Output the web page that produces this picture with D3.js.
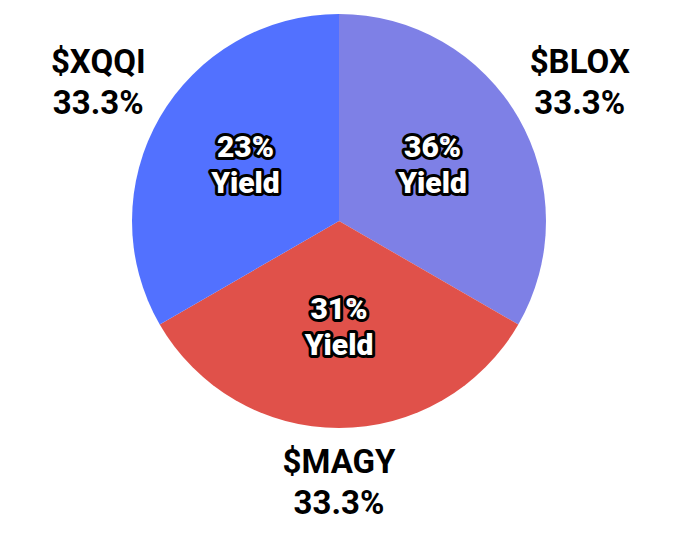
<!DOCTYPE html>
<html><head><meta charset="utf-8">
<script src="https://cdn.jsdelivr.net/npm/d3@7"></script>
<style>html,body{margin:0;padding:0;background:#fff;}svg{display:block;}</style>
</head><body>
<svg id="chart" width="680" height="534"></svg>
<script>
const tickers = ["$BLOX", "$MAGY", "$XQQI"];
const weights = [33.3, 33.3, 33.3];
const yields = ["36%", "31%", "23%"];
const colors = ["#7E80E6", "#E0514A", "#5271FF"];

const svg = d3.select("#chart");
const cx = 339, cy = 221, R = 207;
const g = svg.append("g").attr("transform", `translate(${cx},${cy})`);
const data = tickers.map((t, i) => ({t, w: weights[i], y: yields[i], c: colors[i]}));
const pie = d3.pie().value(d => d.w).sort(null);
const arcs = pie(data);
const arc = d3.arc().innerRadius(0).outerRadius(R);
g.selectAll("path.slice").data(arcs).join("path")
  .attr("d", arc).attr("fill", d => d.data.c);

const inner = d3.arc().innerRadius(108).outerRadius(108);
const outer = d3.arc().innerRadius(278).outerRadius(278);
const mid = d => (d.startAngle + d.endAngle) / 2;

const inl = g.selectAll("text.inl").data(arcs).join("text").attr("class", "inl")
  .attr("transform", d => { const p = inner.centroid(d); return `translate(${p[0]},${p[1] - 3})`; })
  .attr("text-anchor", "middle")
  .attr("font-family", "Roboto, sans-serif").attr("font-weight", 900).attr("font-size", 30)
  .attr("fill", "#fff").attr("stroke", "#000").attr("stroke-width", 6)
  .attr("stroke-linejoin", "round").attr("paint-order", "stroke");
inl.append("tspan").attr("x", 0).attr("y", -18).attr("dy", "0.35em").text(d => d.data.y);
inl.append("tspan").attr("x", 0).attr("y", 18).attr("dy", "0.35em").text("Yield");

const outl = g.selectAll("text.outl").data(arcs).join("text").attr("class", "outl")
  .attr("transform", d => {
    const p = outer.centroid(d);
    const shift = Math.abs(mid(d) - Math.PI) < 0.3 ? -18 : -1;
    return `translate(${p[0]},${p[1] + shift})`;
  })
  .attr("text-anchor", "middle").attr("font-family", "Roboto, sans-serif")
  .attr("font-weight", 700).attr("font-size", 33).attr("fill", "#000");
outl.append("tspan").attr("x", 0).attr("y", -20).attr("dy", "0.35em").text(d => d.data.t);
outl.append("tspan").attr("x", 0).attr("y", 21).attr("dy", "0.35em").text(d => d.data.w.toFixed(1) + "%");
</script>
</body></html>
